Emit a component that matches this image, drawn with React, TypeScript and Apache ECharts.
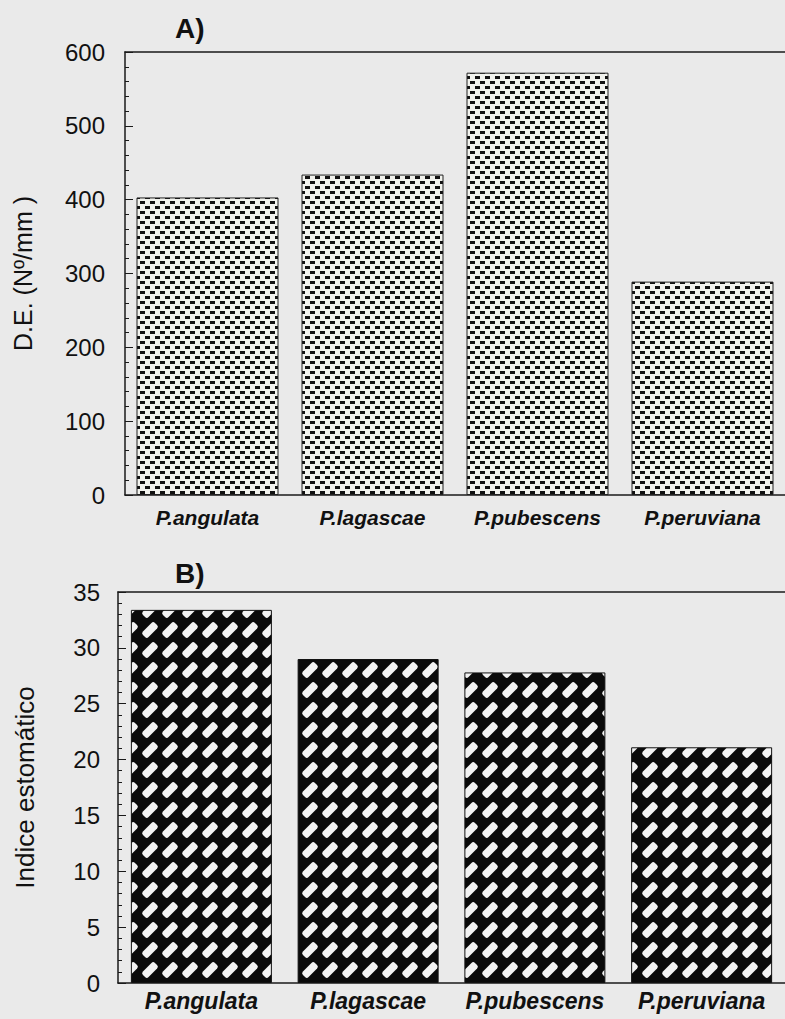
import React, { useEffect, useRef } from "react";
import * as echarts from "echarts";

const categories = ["P.angulata", "P.lagascae", "P.pubescens", "P.peruviana"];
const densityValues = [403, 434, 572, 289];
const indexValues = [33.4, 29.0, 27.8, 21.1];
const titleA = "A)";
const titleB = "B)";
const yNameA = "D.E. (Nº/mm )";
const yNameB = "Indice estomático";

function makeDashPattern() {
  const c = document.createElement("canvas");
  c.width = 10;
  c.height = 10;
  const ctx = c.getContext("2d")!;
  ctx.fillStyle = "#f2f3ee";
  ctx.fillRect(0, 0, 10, 10);
  ctx.fillStyle = "#111";
  ctx.fillRect(0, 1, 5, 3);
  ctx.fillRect(5, 6, 5, 3);
  return c;
}

function makeWeavePattern() {
  const c = document.createElement("canvas");
  c.width = 20;
  c.height = 20;
  const ctx = c.getContext("2d")!;
  ctx.fillStyle = "#0a0a0a";
  ctx.fillRect(0, 0, 20, 20);
  ctx.fillStyle = "#f2f2f2";
  ctx.save();
  ctx.translate(10, 10);
  ctx.rotate((-45 * Math.PI) / 180);
  ctx.beginPath();
  const w = 17, h = 8, r = 2.5;
  ctx.moveTo(-w / 2 + r, -h / 2);
  ctx.lineTo(w / 2 - r, -h / 2);
  ctx.quadraticCurveTo(w / 2, -h / 2, w / 2, -h / 2 + r);
  ctx.lineTo(w / 2, h / 2 - r);
  ctx.quadraticCurveTo(w / 2, h / 2, w / 2 - r, h / 2);
  ctx.lineTo(-w / 2 + r, h / 2);
  ctx.quadraticCurveTo(-w / 2, h / 2, -w / 2, h / 2 - r);
  ctx.lineTo(-w / 2, -h / 2 + r);
  ctx.quadraticCurveTo(-w / 2, -h / 2, -w / 2 + r, -h / 2);
  ctx.closePath();
  ctx.fill();
  ctx.restore();
  return c;
}

export default function App() {
  const ref = useRef<HTMLDivElement>(null);
  useEffect(() => {
    if (!ref.current) return;
    const chart = echarts.init(ref.current, null, { renderer: "svg" });
    const font = "'Liberation Sans', Arial, sans-serif";
    const axisColor = "#1a1a1a";
    const dash = makeDashPattern();
    const weave = makeWeavePattern();
    chart.setOption({
      animation: false,
      backgroundColor: "#eaeaea",
      textStyle: { fontFamily: font },
      graphic: [
        { type: "text", left: 175, top: 14, style: { text: titleA, font: `bold 28px ${font}`, fill: "#111" } },
        { type: "text", left: 175, top: 559, style: { text: titleB, font: `bold 28px ${font}`, fill: "#111" } },
        { type: "text", left: 186, top: 360, style: { text: "A", font: `bold 20px ${font}`, fill: "#111" } },
      ],
      grid: [
        { left: 125, top: 52, width: 667, height: 443 },
        { left: 118, top: 592, width: 667, height: 391 },
      ],
      xAxis: [
        {
          type: "category", gridIndex: 0, data: categories,
          axisLine: { lineStyle: { color: axisColor, width: 1.5 } },
          axisTick: { show: false },
          axisLabel: { interval: 0, margin: 12, fontSize: 21, fontWeight: "bold", fontStyle: "italic", color: "#111", fontFamily: font },
        },
        {
          type: "category", gridIndex: 0, data: categories, position: "top",
          axisLine: { lineStyle: { color: axisColor, width: 1.5 } },
          axisTick: { show: false }, axisLabel: { show: false },
        },
        {
          type: "category", gridIndex: 1, data: categories,
          axisLine: { lineStyle: { color: axisColor, width: 1.5 } },
          axisTick: { show: false },
          axisLabel: { interval: 0, hideOverlap: false, margin: 6, fontSize: 23, fontWeight: "bold", fontStyle: "italic", color: "#111", fontFamily: font },
        },
        {
          type: "category", gridIndex: 1, data: categories, position: "top",
          axisLine: { lineStyle: { color: axisColor, width: 1.5 } },
          axisTick: { show: false }, axisLabel: { show: false },
        },
      ],
      yAxis: [
        {
          type: "value", gridIndex: 0, min: 0, max: 600, interval: 100,
          name: yNameA, nameLocation: "middle", nameGap: 90,
          nameTextStyle: { fontSize: 25, color: "#111", fontFamily: font },
          axisLine: { show: true, lineStyle: { color: axisColor, width: 1.5 } },
          axisTick: { show: true, inside: true, length: 8, lineStyle: { color: axisColor } },
          minorTick: { show: true, splitNumber: 5, length: 4, lineStyle: { color: axisColor } },
          axisLabel: { margin: 20, fontSize: 24, color: "#111", fontFamily: font },
          splitLine: { show: false },
        },
        {
          type: "value", gridIndex: 1, min: 0, max: 35, interval: 5,
          name: yNameB, nameLocation: "middle", nameGap: 80,
          nameTextStyle: { fontSize: 26, color: "#111", fontFamily: font },
          axisLine: { show: true, lineStyle: { color: axisColor, width: 1.5 } },
          axisTick: { show: true, inside: true, length: 8, lineStyle: { color: axisColor } },
          minorTick: { show: true, splitNumber: 5, length: 4, lineStyle: { color: axisColor } },
          axisLabel: { margin: 18, fontSize: 24, color: "#111", fontFamily: font },
          splitLine: { show: false },
        },
      ],
      series: [
        {
          type: "bar", xAxisIndex: 0, yAxisIndex: 0, data: densityValues, barWidth: 142,
          itemStyle: { color: { image: dash, repeat: "repeat" }, borderColor: "#222", borderWidth: 1 },
        },
        {
          type: "bar", xAxisIndex: 2, yAxisIndex: 1, data: indexValues, barWidth: 141,
          itemStyle: { color: { image: weave, repeat: "repeat" }, borderColor: "#111", borderWidth: 1 },
        },
      ],
    });
    return () => chart.dispose();
  }, []);
  return <div ref={ref} style={{ position: "fixed", left: 0, top: 0, width: 785, height: 1019 }} />;
}
